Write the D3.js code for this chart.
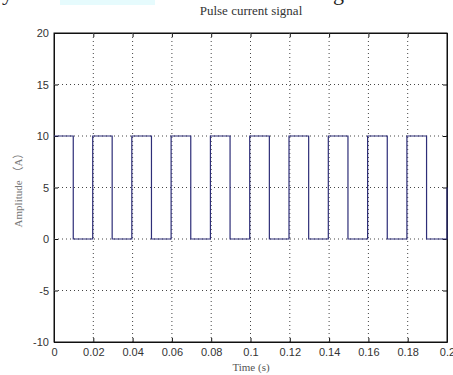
<!DOCTYPE html>
<html>
<head>
<meta charset="utf-8">
<script src="https://cdn.jsdelivr.net/npm/d3@7"></script>
<style>
  body { margin: 0; background: #fff; }
  svg { display: block; }
</style>
</head>
<body>
<div id="chart"></div>
<script>
// transition times of the pulse train (s) and the level reached after each
var edgeTimes = [0, 0.0098, 0.0197, 0.0296, 0.0396, 0.0496, 0.0596, 0.0696, 0.0796, 0.0896, 0.0996,
                 0.1096, 0.1196, 0.1296, 0.1396, 0.1496, 0.1596, 0.1696, 0.1796, 0.1896, 0.2];
var edgeLevels = [10, 0, 10, 0, 10, 0, 10, 0, 10, 0, 10,
                  0, 10, 0, 10, 0, 10, 0, 10, 0, 5];
var xTicks = [0, 0.02, 0.04, 0.06, 0.08, 0.1, 0.12, 0.14, 0.16, 0.18, 0.2];
var yTicks = [-10, -5, 0, 5, 10, 15, 20];

var width = 453, height = 375;
var margin = {left: 54, right: 6, top: 33, bottom: 33};

var svg = d3.select("#chart").append("svg")
    .attr("width", width)
    .attr("height", height);

// remnants of the surrounding page at the very top
svg.append("rect")
    .attr("x", 60).attr("y", 0)
    .attr("width", 95).attr("height", 5)
    .attr("fill", "#e6fbfd");
svg.append("text")
    .attr("x", 2).attr("y", 0)
    .attr("font-family", "Liberation Serif")
    .attr("font-size", "22px")
    .attr("fill", "#222")
    .text("y");
svg.append("text")
    .attr("x", 333).attr("y", 0)
    .attr("font-family", "Liberation Serif")
    .attr("font-size", "22px")
    .attr("fill", "#222")
    .text("g");

var x = d3.scaleLinear()
    .domain([0, 0.2])
    .range([margin.left, width - margin.right]);
var y = d3.scaleLinear()
    .domain([-10, 20])
    .range([height - margin.bottom, margin.top]);

var g = svg.append("g");

// dotted grid
g.selectAll(".vgrid")
    .data(xTicks.slice(1, -1))
  .enter().append("line")
    .attr("class", "vgrid")
    .attr("x1", function(d) { return x(d); })
    .attr("x2", function(d) { return x(d); })
    .attr("y1", y(20))
    .attr("y2", y(-10))
    .attr("stroke", "#444")
    .attr("stroke-width", 1)
    .attr("stroke-dasharray", "1,3");

g.selectAll(".hgrid")
    .data(yTicks.slice(1, -1))
  .enter().append("line")
    .attr("class", "hgrid")
    .attr("x1", x(0))
    .attr("x2", x(0.2))
    .attr("y1", function(d) { return y(d); })
    .attr("y2", function(d) { return y(d); })
    .attr("stroke", "#444")
    .attr("stroke-width", 1)
    .attr("stroke-dasharray", "1,3");

// the pulse signal as a step line
var pts = [];
edgeTimes.forEach(function(t, i) {
    if (i > 0) pts.push([t, edgeLevels[i - 1]]);
    pts.push([t, edgeLevels[i]]);
});

var line = d3.line()
    .x(function(d) { return x(d[0]); })
    .y(function(d) { return y(d[1]); });

// MATLAB-style axes: ticks inside on all four sides
var fontAxis = "Liberation Sans";
var xAxis = d3.axisBottom(x).tickValues(xTicks).tickSizeInner(-4).tickSizeOuter(0)
    .tickPadding(6).tickFormat(function(d) { return String(d); });
var yAxis = d3.axisLeft(y).tickValues(yTicks).tickSizeInner(-4).tickSizeOuter(0)
    .tickPadding(5).tickFormat(function(d) { return String(d); });

var gx = svg.append("g")
    .attr("transform", "translate(0," + y(-10) + ")")
    .call(xAxis);
var gy = svg.append("g")
    .attr("transform", "translate(" + x(0) + ",0)")
    .call(yAxis);
var gxt = svg.append("g")
    .attr("transform", "translate(0," + y(20) + ")")
    .call(d3.axisTop(x).tickValues(xTicks).tickSizeInner(-4).tickSizeOuter(0).tickFormat(""));
var gyr = svg.append("g")
    .attr("transform", "translate(" + x(0.2) + ",0)")
    .call(d3.axisRight(y).tickValues(yTicks).tickSizeInner(-4).tickSizeOuter(0).tickFormat(""));

[gx, gy, gxt, gyr].forEach(function(a) {
    a.select(".domain").attr("stroke", "#111");
    a.selectAll(".tick line").attr("stroke", "#111");
    a.selectAll("text")
        .attr("font-family", fontAxis)
        .attr("font-size", "11px")
        .attr("fill", "#333");
});

svg.append("rect")
    .attr("x", x(0)).attr("y", y(20))
    .attr("width", x(0.2) - x(0))
    .attr("height", y(-10) - y(20))
    .attr("fill", "none")
    .attr("stroke", "#111")
    .attr("stroke-width", 1);

// signal drawn over the frame so the last rise at 0.2 s stays visible
g.raise();
g.append("path")
    .datum(pts)
    .attr("d", line)
    .attr("fill", "none")
    .attr("stroke", "#2e2e78")
    .attr("stroke-width", 1.2);

// title and axis labels
svg.append("text")
    .attr("x", 251).attr("y", 15)
    .attr("text-anchor", "middle")
    .attr("font-family", "Liberation Serif")
    .attr("font-size", "13px")
    .attr("fill", "#333")
    .text("Pulse current signal");

svg.append("text")
    .attr("x", 251).attr("y", 371)
    .attr("text-anchor", "middle")
    .attr("font-family", "Liberation Serif")
    .attr("font-size", "11px")
    .attr("fill", "#555")
    .text("Time (s)");

svg.append("text")
    .attr("transform", "translate(22," + y(5) + ") rotate(-90)")
    .attr("text-anchor", "middle")
    .attr("font-family", "Liberation Serif, Noto Sans CJK SC")
    .attr("font-size", "11px")
    .attr("fill", "#777")
    .text("Amplitude （A）");
</script>
</body>
</html>
